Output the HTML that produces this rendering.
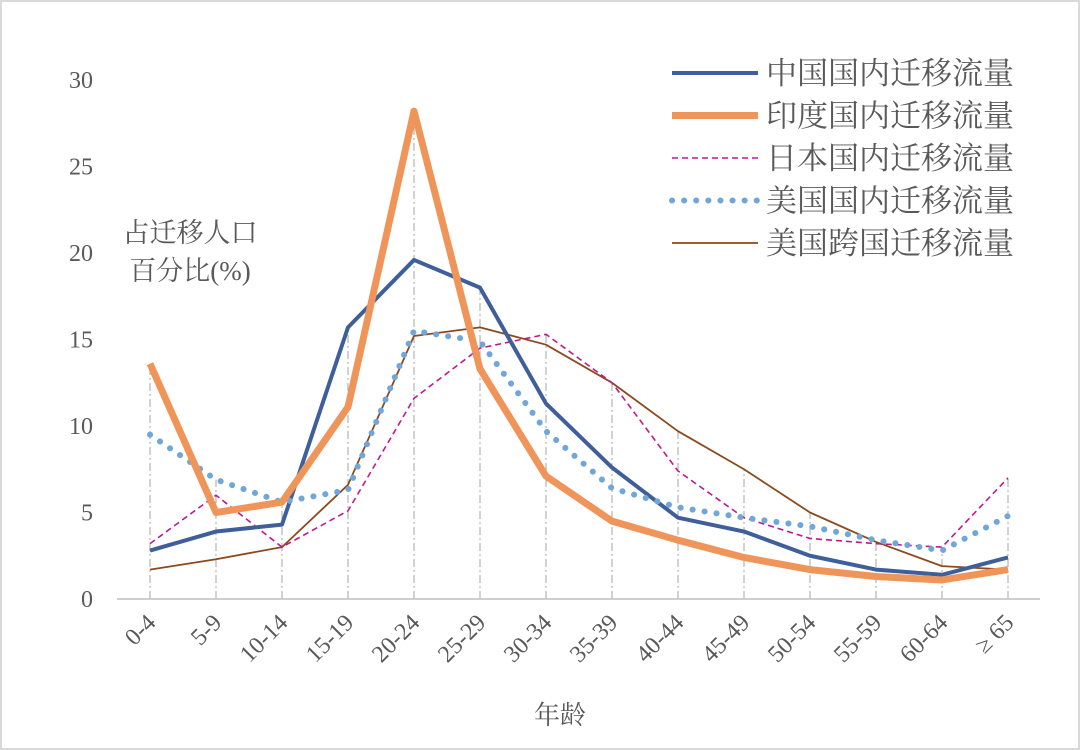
<!DOCTYPE html>
<html><head><meta charset="utf-8"><style>
body{margin:0;background:#fff}
svg{display:block}
text{font-family:"Liberation Serif","Noto Serif CJK SC",serif;fill:#595959}
.cjk{font-family:"Liberation Serif","Noto Serif CJK SC","Noto Sans CJK SC",serif}
</style></head><body>
<svg id="chart" width="1080" height="750">
<rect x="1" y="1" width="1078" height="748" fill="#fff" stroke="#d9d9d9" stroke-width="2"/>
<g id="grid"></g><g id="axes"></g><g id="series"></g><g id="legend"></g>
<text x="190" y="242" font-size="27" text-anchor="middle" class="cjk">占迁移人口</text>
<text x="190" y="280" font-size="27" text-anchor="middle" class="cjk">百分比(%)</text>
<text x="560" y="724" font-size="26" text-anchor="middle" class="cjk">年龄</text>
</svg>
<script>
const categories=["0-4","5-9","10-14","15-19","20-24","25-29","30-34","35-39","40-44","45-49","50-54","55-59","60-64","≥ 65"];
const yTicks=[0,5,10,15,20,25,30];
const chinaDomestic=[2.8,3.9,4.3,15.7,19.6,18.0,11.3,7.6,4.7,3.9,2.5,1.7,1.4,2.4];
const indiaDomestic=[13.6,5.0,5.6,11.1,28.2,13.3,7.1,4.5,3.4,2.4,1.7,1.3,1.1,1.7];
const japanDomestic=[3.2,6.0,3.0,5.1,11.6,14.5,15.3,12.5,7.4,4.7,3.5,3.2,3.0,7.0];
const usDomestic=[9.5,6.9,5.6,6.3,15.5,14.9,9.7,6.4,5.3,4.7,4.2,3.4,2.8,4.8];
const usInternational=[1.7,2.3,3.0,6.6,15.2,15.7,14.7,12.5,9.7,7.5,5.0,3.3,1.9,1.7];
const names=["中国国内迁移流量","印度国内迁移流量","日本国内迁移流量","美国国内迁移流量","美国跨国迁移流量"];

const NS="http://www.w3.org/2000/svg";
const X=i=>150+i*66;
const Y=v=>599-v*(519/30);
function mk(tag,attrs,parent){const e=document.createElementNS(NS,tag);for(const k in attrs)e.setAttribute(k,attrs[k]);parent.appendChild(e);return e;}
const grid=document.getElementById('grid'),axes=document.getElementById('axes'),series=document.getElementById('series'),legend=document.getElementById('legend');
const all=[chinaDomestic,indiaDomestic,japanDomestic,usDomestic,usInternational];
categories.forEach((c,i)=>{
  const mx=Math.max(...all.map(s=>s[i]));
  const l=mk('line',{x1:X(i),x2:X(i),y1:Y(0),y2:Y(mx),stroke:'#a6a6a6','stroke-width':1,'stroke-dasharray':'8 3 2 3'},grid);
  
  
  const t=mk('text',{x:X(i)+7,y:624,'font-size':24,'text-anchor':'end',transform:`rotate(-45 ${X(i)+7} 624)`},axes);
  t.textContent=c;
  
  
});
yTicks.forEach(v=>{
  const t=mk('text',{x:93,y:Y(v)+8,'font-size':24,'text-anchor':'end'},axes);
  t.textContent=v;
  
  
});
const ax=mk('line',{x1:117,x2:1040,y1:Y(0),y2:Y(0),stroke:'#bfbfbf','stroke-width':1.5},axes);


const styles=[
 {stroke:'#3f5f9b',w:4,dash:'',cap:'butt',key:'china-domestic'},
 {stroke:'#f0955a',w:7,dash:'',cap:'butt',key:'india-domestic'},
 {stroke:'#c0188f',w:1.6,dash:'6 4',cap:'butt',key:'japan-domestic'},
 {stroke:'#71a7d8',w:6,dash:'0.1 12',cap:'round',key:'us-domestic'},
 {stroke:'#8b4a1c',w:1.8,dash:'',cap:'butt',key:'us-international'}];
const order=[4,2,0,3,1];
order.forEach(k=>{
  const s=styles[k];
  const p=mk('polyline',{points:all[k].map((v,i)=>X(i)+','+Y(v)).join(' '),fill:'none',stroke:s.stroke,'stroke-width':s.w,'stroke-dasharray':s.dash,'stroke-linecap':s.cap,'stroke-linejoin':'round'},series);
  
  
});
names.forEach((n,k)=>{
  const s=styles[k];const y=73+k*42.5;
  const l=mk('line',{x1:672,x2:758,y1:y,y2:y,stroke:s.stroke,'stroke-width':s.w,'stroke-dasharray':s.dash,'stroke-linecap':s.cap},legend);
  
  
  const t=mk('text',{x:766,y:y+11,'font-size':31,class:'cjk',fill:'#404040'},legend);
  t.textContent=n;
  
  
});
</script>
</body></html>
